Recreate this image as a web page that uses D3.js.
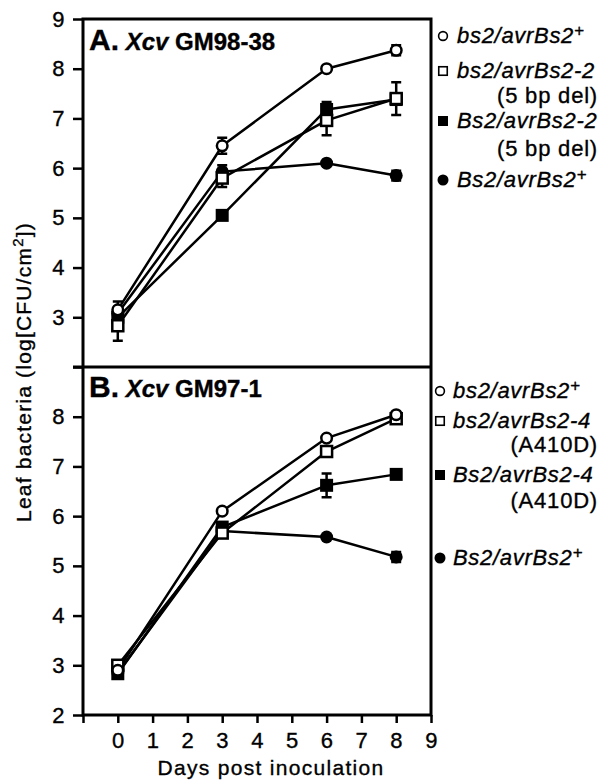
<!DOCTYPE html>
<html>
<head>
<meta charset="utf-8">
<script src="https://cdn.jsdelivr.net/npm/d3@7"></script>
<style>
  body { margin: 0; background: #fff; }
  svg text { font-family: "Liberation Sans", Arial, Helvetica, sans-serif; fill: #000; stroke: #000; stroke-width: 0.35px; }
</style>
</head>
<body>
<svg id="chart" width="604" height="781"></svg>
<script>
/* Leaf bacteria growth, two panels sharing the x axis */

const days = [0, 3, 6, 8];
const xTicks = [-1, 0, 1, 2, 3, 4, 5, 6, 7, 8, 9];
const yTicksA = [2, 3, 4, 5, 6, 7, 8, 9];
const yTicksB = [2, 3, 4, 5, 6, 7, 8];

// drawing order: filled circle, filled square, open square, open circle
const markers = ["filledCircle", "filledSquare", "openSquare", "openCircle"];

const titleA = ["A.", "Xcv", "GM98-38"];
const namesA = ["Bs2/avrBs2", "Bs2/avrBs2-2", "bs2/avrBs2-2", "bs2/avrBs2"];
const supA   = ["+", "", "", "+"];
const notesA = ["", "(5 bp del)", "(5 bp del)", ""];
const meansA = [
    [3.08, 5.93, 6.10, 5.85],
    [3.00, 5.05, 7.18, 7.38],
    [2.83, 5.80, 6.96, 7.40],
    [3.15, 6.45, 8.00, 8.37]
];
const errsA = [
    [0.10, 0.13, 0.00, 0.10],
    [0.00, 0.00, 0.15, 0.00],
    [0.30, 0.18, 0.30, 0.33],
    [0.17, 0.16, 0.05, 0.10]
];

const titleB = ["B.", "Xcv", "GM97-1"];
const namesB = ["Bs2/avrBs2", "Bs2/avrBs2-4", "bs2/avrBs2-4", "bs2/avrBs2"];
const supB   = ["+", "", "", "+"];
const notesB = ["", "(A410D)", "(A410D)", ""];
const meansB = [
    [2.85, 5.70, 5.58, 5.18],
    [2.83, 5.78, 6.62, 6.84],
    [3.00, 5.66, 7.30, 7.96],
    [2.90, 6.10, 7.57, 8.04]
];
const errsB = [
    [0.00, 0.00, 0.00, 0.10],
    [0.00, 0.00, 0.24, 0.00],
    [0.05, 0.00, 0.00, 0.00],
    [0.05, 0.00, 0.00, 0.03]
];

const svg = d3.select("#chart");
const plotLeft = 83, plotRight = 431, plotTop = 19, plotMid = 367, plotBottom = 715;

const x = d3.scaleLinear().domain([-1, 9]).range([plotLeft, plotRight]);
const yA = d3.scaleLinear().domain([2, 9]).range([plotMid, plotTop]);
const yB = d3.scaleLinear().domain([2, 9]).range([plotBottom, plotMid]);

function styleAxis(g) {
    g.select(".domain").remove();
    g.selectAll(".tick line").attr("stroke", "#000").attr("stroke-width", 2.5);
    g.selectAll(".tick text")
        .attr("font-size", 22)
        .attr("letter-spacing", 0.5)
        .attr("font-family", "Liberation Sans, Arial, sans-serif");
}

// axes
svg.append("g").attr("transform", `translate(${plotLeft},0)`)
    .call(d3.axisLeft(yA).tickValues(yTicksA).tickSize(10).tickPadding(8)
        .tickFormat(d => d === 2 ? "" : d3.format("d")(d)))
    .call(styleAxis);

svg.append("g").attr("transform", `translate(${plotLeft},0)`)
    .call(d3.axisLeft(yB).tickValues(yTicksB).tickSize(10).tickPadding(8)
        .tickFormat(d3.format("d")))
    .call(styleAxis);

svg.append("g").attr("transform", `translate(0,${plotBottom})`)
    .call(d3.axisBottom(x).tickValues(xTicks).tickSize(8).tickPadding(9)
        .tickFormat(d => d < 0 ? "" : d3.format("d")(d)))
    .call(styleAxis);

// frame
svg.append("rect")
    .attr("x", plotLeft).attr("y", plotTop)
    .attr("width", plotRight - plotLeft).attr("height", plotBottom - plotTop)
    .attr("fill", "none").attr("stroke", "#000").attr("stroke-width", 3);
svg.append("line")
    .attr("x1", plotLeft - 10).attr("x2", plotRight)
    .attr("y1", plotMid).attr("y2", plotMid)
    .attr("stroke", "#000").attr("stroke-width", 3);

// axis titles
svg.append("text")
    .attr("x", 271).attr("y", 775)
    .attr("text-anchor", "middle")
    .attr("font-size", 21).attr("letter-spacing", 1.3)
    .text("Days post inoculation");

const yTitle = svg.append("text")
    .attr("transform", "translate(31,372) rotate(-90)")
    .attr("text-anchor", "middle")
    .attr("font-size", 21).attr("letter-spacing", 1.2);
yTitle.append("tspan").text("Leaf bacteria (log[CFU/cm");
yTitle.append("tspan").attr("font-size", 15).attr("dy", -8).text("2");
yTitle.append("tspan").attr("dy", 8).text("])");

function drawMarker(g, type, cx, cy, big) {
    const filled = type.startsWith("filled");
    const isCircle = type.endsWith("Circle");
    const sw = big ? 2.5 : 1.6;
    if (isCircle) {
        const r = big ? (filled ? 6.5 : 5.3) : (filled ? 5.5 : 4.4);
        g.append("circle").attr("cx", cx).attr("cy", cy).attr("r", r)
            .attr("fill", filled ? "#000" : "#fff")
            .attr("stroke", "#000").attr("stroke-width", filled ? 0 : sw);
    } else {
        const s = big ? (filled ? 13 : 11) : (filled ? 10 : 8.5);
        g.append("rect").attr("x", cx - s / 2).attr("y", cy - s / 2)
            .attr("width", s).attr("height", s)
            .attr("fill", filled ? "#000" : "#fff")
            .attr("stroke", "#000").attr("stroke-width", filled ? 0 : sw);
    }
}

function drawPanel(y, means, errs, title, titleY) {
    const g = svg.append("g");
    const line = d3.line().x((d, i) => x(days[i])).y(d => y(d));

    means.forEach((vals, s) => {
        g.append("path").datum(vals)
            .attr("d", line)
            .attr("fill", "none").attr("stroke", "#000")
            .attr("stroke-width", 2.5).attr("stroke-linejoin", "round");
    });

    means.forEach((vals, s) => {
        vals.forEach((v, i) => {
            const e = errs[s][i];
            if (e > 0) {
                const cx = x(days[i]);
                g.append("path")
                    .attr("d", `M${cx},${y(v - e)}V${y(v + e)}M${cx - 5},${y(v - e)}H${cx + 5}M${cx - 5},${y(v + e)}H${cx + 5}`)
                    .attr("fill", "none").attr("stroke", "#000").attr("stroke-width", 2.5);
            }
            drawMarker(g, markers[s], x(days[i]), y(v), true);
        });
    });

    const t = svg.append("text").attr("x", 89).attr("y", titleY).attr("font-weight", "bold");
    t.append("tspan").attr("font-size", 30).text(title[0]);
    t.append("tspan").attr("font-size", 24).attr("font-style", "italic").text(" " + title[1]);
    t.append("tspan").attr("font-size", 24).text(" " + title[2]);
}

drawPanel(yA, meansA, errsA, titleA, 50);
drawPanel(yB, meansB, errsB, titleB, 397);

// legends: listed top to bottom = reverse of drawing order
function drawLegend(names, sups, notes, symX, textX, rowY, noteY) {
    const g = svg.append("g");
    [3, 2, 1, 0].forEach((s, k) => {
        drawMarker(g, markers[s], symX, rowY[k] - 7, false);
        const t = g.append("text").attr("x", textX).attr("y", rowY[k])
            .attr("font-size", 22).attr("font-style", "italic").attr("letter-spacing", 0.7);
        t.append("tspan").text(names[s]);
        if (sups[s]) {
            t.append("tspan").attr("font-size", 17).attr("dy", -7)
                .attr("letter-spacing", 0).text(sups[s]);
        }
        if (notes[s]) {
            g.append("text").attr("x", 598).attr("y", noteY[k])
                .attr("text-anchor", "end")
                .attr("font-size", 22).attr("letter-spacing", 0.8)
                .text(notes[s]);
        }
    });
}

drawLegend(namesA, supA, notesA, 443, 457, [43, 78, 128, 187], [0, 103, 156, 0]);
drawLegend(namesB, supB, notesB, 440, 453, [398, 428, 482, 565], [0, 452, 508, 0]);
</script>
</body>
</html>
